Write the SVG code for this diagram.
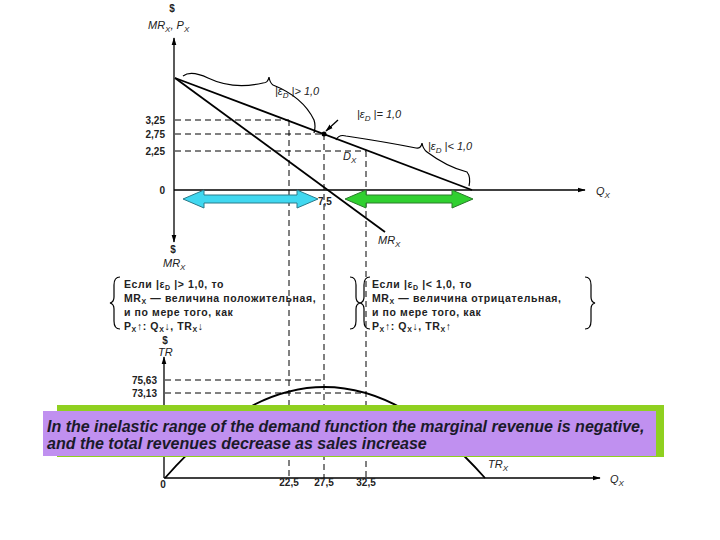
<svg xmlns="http://www.w3.org/2000/svg" width="720" height="540" viewBox="0 0 720 540">
<defs>
<marker id="ar" viewBox="0 0 10 10" refX="9" refY="5" markerWidth="6" markerHeight="6" orient="auto-start-reverse"><path d="M0,2 L10,5 L0,8 z" fill="#000"/></marker>
<style>
.ax{stroke:#000;stroke-width:1.3;fill:none}
.ln{stroke:#000;stroke-width:1.8;fill:none}
.ds{stroke:#000;stroke-width:1;stroke-dasharray:6,4;fill:none}
.t{font-family:"Liberation Sans",Arial,sans-serif;font-size:10px;font-weight:bold;fill:#222}
.bt{font-family:"Liberation Sans",Arial,sans-serif;font-size:10.5px;font-weight:bold;fill:#222;letter-spacing:0.6px}
.ti{font-family:"Liberation Sans",Arial,sans-serif;font-size:11px;font-style:italic;fill:#222}
.br{stroke:#000;stroke-width:1.2;fill:none}
.bn{font-family:"Liberation Sans",Arial,sans-serif;font-size:16px;font-style:italic;font-weight:bold;fill:#1a1a2a}
</style>
</defs>
<rect width="720" height="540" fill="#fff"/>
<g id="connectors">
<line class="ax" x1="174" y1="242" x2="174" y2="38" marker-end="url(#ar)" marker-start="url(#ar)"/>
<line class="ax" x1="174" y1="190" x2="585" y2="190" marker-end="url(#ar)"/>
<line class="ln" x1="175" y1="78" x2="472" y2="190"/>
<line class="ln" x1="175" y1="78" x2="385" y2="232"/>
<line class="ds" x1="175" y1="120" x2="289" y2="120"/>
<line class="ds" x1="175" y1="134" x2="324" y2="134"/>
<line class="ds" x1="175" y1="151" x2="366" y2="151"/>
<line class="ds" x1="289" y1="120" x2="289" y2="478"/>
<line class="ds" x1="324" y1="134" x2="324" y2="478"/>
<line class="ds" x1="366" y1="151" x2="366" y2="478"/>
<line class="ax" x1="164" y1="478" x2="164" y2="357" marker-end="url(#ar)"/>
<line class="ax" x1="164" y1="478" x2="600" y2="478" marker-end="url(#ar)"/>
<line class="ds" x1="165" y1="380" x2="324" y2="380"/>
<line class="ds" x1="165" y1="393" x2="366" y2="393"/>
<path class="ln" d="M165,478 Q324,296 485,478"/>
<path class="br" d="M183,76 q8,-6 25,2 q25,12 55,5 q5,0 6,-6 q1,6 4,8 q30,12 41,35 q2,6 0,13"/>
<path class="br" d="M336,140 q3,-6 10,-4 q40,6 70,12 q5,1 6,-5 q1,6 5,9 q20,15 40,20 q4,5 2,14"/>
<line class="ax" x1="338" y1="120" x2="326" y2="131" marker-end="url(#ar)"/>
<path class="br" d="M120,277 q-6,0 -6,8 v12 q0,5 -4,6 q4,1 4,6 v12 q0,8 6,8"/>
<path class="br" d="M350,277 q6,0 6,8 v12 q0,5 4,6 q-4,1 -4,6 v12 q0,8 -6,8"/>
<path class="br" d="M370,277 q-6,0 -6,8 v12 q0,5 -4,6 q4,1 4,6 v12 q0,8 6,8"/>
<path class="br" d="M585,277 q6,0 6,8 v12 q0,5 4,6 q-4,1 -4,6 v12 q0,8 -6,8"/>
</g>
<g id="node-labels">
<text class="t" x="172" y="12" text-anchor="middle">$</text>
<text class="ti" x="148" y="29">MR<tspan font-size="8" dy="3">X</tspan><tspan dy="-3">, P</tspan><tspan font-size="8" dy="3">X</tspan></text>
<text class="t" x="165" y="124" text-anchor="end">3,25</text>
<text class="t" x="165" y="138" text-anchor="end">2,75</text>
<text class="t" x="165" y="155" text-anchor="end">2,25</text>
<text class="t" x="165" y="194" text-anchor="end">0</text>
<text class="ti" x="596" y="195">Q<tspan font-size="8" dy="3">X</tspan></text>
<text class="ti" x="275" y="95">|ε<tspan font-size="8" dy="3">D</tspan><tspan dy="-3"> |&gt; 1,0</tspan></text>
<text class="ti" x="357" y="118">|ε<tspan font-size="8" dy="3">D</tspan><tspan dy="-3"> |= 1,0</tspan></text>
<text class="ti" x="428" y="150">|ε<tspan font-size="8" dy="3">D</tspan><tspan dy="-3"> |&lt; 1,0</tspan></text>
<text class="ti" x="343" y="160">D<tspan font-size="8" dy="3">X</tspan></text>
<text class="ti" x="378" y="244">MR<tspan font-size="8" dy="3">X</tspan></text>
<text class="t" x="173" y="253" text-anchor="middle">$</text>
<text class="ti" x="163" y="267">MR<tspan font-size="8" dy="3">X</tspan></text>
<text class="t" x="318" y="205">7,5</text>
<text class="t" x="165" y="344" text-anchor="middle">$</text>
<text class="ti" x="158" y="356">TR</text>
<text class="t" x="157" y="384" text-anchor="end">75,63</text>
<text class="t" x="157" y="397" text-anchor="end">73,13</text>
<text class="t" x="163" y="488" text-anchor="middle">0</text>
<text class="t" x="289" y="486" text-anchor="middle">22,5</text>
<text class="t" x="324" y="486" text-anchor="middle">27,5</text>
<text class="t" x="366" y="486" text-anchor="middle">32,5</text>
<text class="ti" x="488" y="468">TR<tspan font-size="8" dy="3">X</tspan></text>
<text class="ti" x="610" y="483">Q<tspan font-size="8" dy="3">X</tspan></text>
</g>
<g id="left-text">
<text class="bt" x="124" y="288">Если  |ε<tspan font-size="7" dy="2">D</tspan><tspan dy="-2"> |&gt; 1,0, то</tspan></text>
<text class="bt" x="124" y="302">MR<tspan font-size="7" dy="2">X</tspan><tspan dy="-2"> — величина положительная,</tspan></text>
<text class="bt" x="124" y="316">и по мере того, как</text>
<text class="bt" x="124" y="330">P<tspan font-size="7" dy="2">X</tspan><tspan dy="-2">↑: Q</tspan><tspan font-size="7" dy="2">X</tspan><tspan dy="-2">↓, TR</tspan><tspan font-size="7" dy="2">X</tspan><tspan dy="-2">↓</tspan></text>
</g>
<g id="right-text">
<text class="bt" x="372" y="288">Если  |ε<tspan font-size="7" dy="2">D</tspan><tspan dy="-2"> |&lt; 1,0, то</tspan></text>
<text class="bt" x="372" y="302">MR<tspan font-size="7" dy="2">X</tspan><tspan dy="-2"> — величина отрицательная,</tspan></text>
<text class="bt" x="372" y="316">и по мере того, как</text>
<text class="bt" x="372" y="330">P<tspan font-size="7" dy="2">X</tspan><tspan dy="-2">↑: Q</tspan><tspan font-size="7" dy="2">X</tspan><tspan dy="-2">↓, TR</tspan><tspan font-size="7" dy="2">X</tspan><tspan dy="-2">↑</tspan></text>
</g>
<circle cx="324" cy="134" r="2.5" fill="#000"/>
<g id="arrow-cyan">
<path d="M183,199 L204,190 L204,195 L297,195 L297,190 L318,199 L297,208 L297,203 L204,203 L204,208 z" fill="#40d8f0" stroke="#2a7a8a" stroke-width="1"/>
</g>
<g id="arrow-green">
<path d="M345,199 L366,190 L366,195 L452,195 L452,190 L473,199 L452,208 L452,203 L366,203 L366,208 z" fill="#30d030" stroke="#2a7a2a" stroke-width="1"/>
</g>
<g id="banner">
<rect x="57" y="405" width="607" height="52" fill="#8fd020"/>
<rect x="43" y="411" width="613" height="45" fill="#c090f0"/>
<text class="bn" x="47" y="432">In the inelastic range of the demand function the marginal revenue is negative,</text>
<text class="bn" x="47" y="449">and the total revenues decrease as sales increase</text>
</g>
</svg>
